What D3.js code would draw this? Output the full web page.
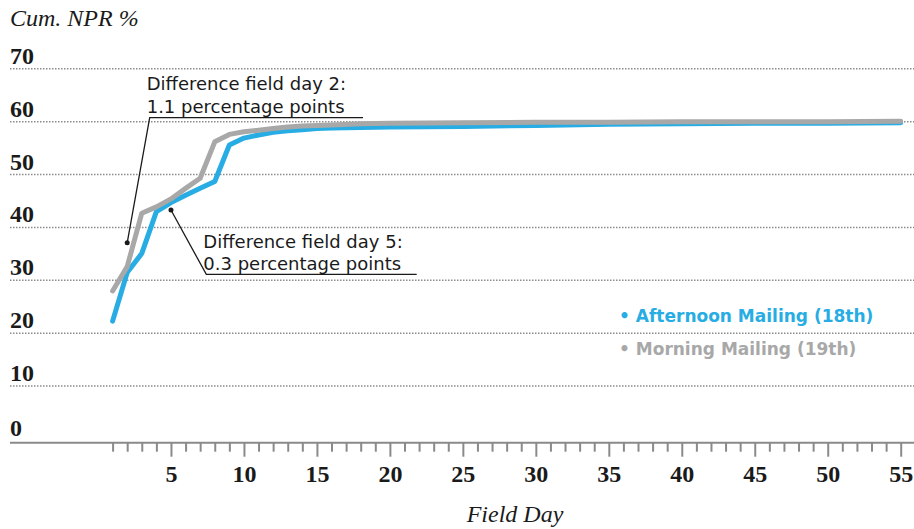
<!DOCTYPE html>
<html>
<head>
<meta charset="utf-8">
<script src="https://cdn.jsdelivr.net/npm/d3@7"></script>
<style>
  html, body { margin: 0; padding: 0; background: #fff; }
  svg { display: block; }
</style>
</head>
<body>
<svg id="drawing_region"></svg>
<script>
// field days
const days = [1, 2, 3, 4, 5, 6, 7, 8, 9, 10, 11, 12, 13, 14, 15, 16, 18, 20, 25, 30, 35, 40, 45, 50, 55];
const afternoon = [22.2, 31.4, 35.0, 42.9, 44.6, 46.0, 47.3, 48.6, 55.5, 56.8, 57.4, 57.9, 58.2, 58.4, 58.6, 58.7, 58.8, 58.9, 59.0, 59.2, 59.4, 59.5, 59.6, 59.6, 59.7];
const morning   = [27.9, 32.5, 42.6, 43.8, 45.3, 47.3, 49.2, 56.1, 57.5, 58.0, 58.3, 58.6, 58.9, 59.1, 59.2, 59.3, 59.5, 59.6, 59.7, 59.8, 59.8, 59.9, 59.9, 59.9, 60.0];
const yTicks = [0, 10, 20, 30, 40, 50, 60, 70];
const xMinorTicks = [1,2,3,4,5,6,7,8,9,10,11,12,13,14,15,16,17,18,19,20,21,22,23,24,25,26,27,28,29,30,
                     31,32,33,34,35,36,37,38,39,40,41,42,43,44,45,46,47,48,49,50,51,52,53,54,55];
const xTickLabels = [5, 10, 15, 20, 25, 30, 35, 40, 45, 50, 55];
const seriesNames = ['Afternoon Mailing (18th)', 'Morning Mailing (19th)'];
const note1 = ['Difference field day 2:', '1.1 percentage points'];
const note2 = ['Difference field day 5:', '0.3 percentage points'];

class LineChart {
    constructor(config) {
        this.config = {
            width: config.width || 914,
            height: config.height || 529,
            blue: '#27ade3',
            grey: '#a8a8a8',
            serif: '"Liberation Serif", "Times New Roman", serif',
            sans: '"DejaVu Sans", "Noto Sans", sans-serif'
        };
        this.init();
    }

    init() {
        let self = this;
        const c = self.config;
        self.svg = d3.select('#drawing_region')
            .attr('width', c.width)
            .attr('height', c.height);

        self.xscale = d3.scaleLinear().domain([0, 55]).range([98, 900.7]);
        self.yscale = d3.scaleLinear().domain([0, 70]).range([438.5, 68.3]);
        self.axisY = 442.7;
    }

    render() {
        let self = this;
        const c = self.config;
        const x = self.xscale, y = self.yscale;

        // y gridlines (dotted) with labels sitting above them
        const yaxis = d3.axisRight(y).tickValues(yTicks.filter(d => d > 0))
            .tickSize(c.width - 10).tickFormat(d => d);
        const yg = self.svg.append('g')
            .attr('transform', 'translate(10,0)')
            .call(yaxis);
        yg.select('.domain').remove();
        yg.selectAll('line')
            .attr('stroke', '#8c8c8c')
            .attr('stroke-width', 1.5)
            .attr('stroke-dasharray', '1.5,1.5');
        yg.selectAll('text')
            .attr('x', 0).attr('dy', null).attr('y', -5)
            .attr('text-anchor', 'start')
            .style('font-family', c.serif).style('font-size', '24px').style('font-weight', 700)
            .style('fill', '#1a1a1a');

        // zero label (no gridline; the axis line carries it)
        self.svg.append('text')
            .attr('x', 10).attr('y', y(0) - 3)
            .style('font-family', c.serif).style('font-size', '24px').style('font-weight', 700)
            .style('fill', '#1a1a1a')
            .text(yTicks[0]);

        // x axis
        self.svg.append('line')
            .attr('x1', 10).attr('x2', c.width)
            .attr('y1', self.axisY).attr('y2', self.axisY)
            .attr('stroke', '#8a8a8a').attr('stroke-width', 2);

        const xaxis = d3.axisBottom(x).tickValues(xMinorTicks)
            .tickSize(9).tickFormat(d => xTickLabels.includes(d) ? d : '');
        const xg = self.svg.append('g')
            .attr('transform', `translate(0,${self.axisY})`)
            .call(xaxis);
        xg.select('.domain').remove();
        xg.selectAll('line')
            .attr('stroke', '#8a8a8a').attr('stroke-width', 2)
            .attr('y2', d => xTickLabels.includes(d) ? 14 : 9);
        xg.selectAll('text')
            .attr('y', 39).attr('dy', null)
            .style('font-family', c.serif).style('font-size', '24px').style('font-weight', 700)
            .style('fill', '#1a1a1a');

        // axis titles
        self.svg.append('text')
            .attr('x', 10).attr('y', 26)
            .style('font-family', c.serif).style('font-style', 'italic').style('font-size', '24px')
            .style('fill', '#1a1a1a')
            .text('Cum. NPR %');
        self.svg.append('text')
            .attr('x', 515).attr('y', 521.5).attr('text-anchor', 'middle')
            .style('font-family', c.serif).style('font-style', 'italic').style('font-size', '24px')
            .style('fill', '#1a1a1a')
            .text('Field Day');

        // lines
        const line = vals => d3.line()
            .x((d, i) => x(days[i]))
            .y(d => y(d))(vals);
        self.svg.append('path')
            .attr('d', line(afternoon))
            .attr('fill', 'none').attr('stroke', c.blue).attr('stroke-width', 5)
            .attr('stroke-linejoin', 'round').attr('stroke-linecap', 'round');
        self.svg.append('path')
            .attr('d', line(morning))
            .attr('fill', 'none').attr('stroke', c.grey).attr('stroke-width', 5)
            .attr('stroke-linejoin', 'round').attr('stroke-linecap', 'round');

        // annotations
        self.note(note1, [x(2), y(37)], 146.7, 90, 23.3, 363);
        self.note(note2, [x(5), y(43.2)], 203.3, 248.3, 21.7, 416.7);

        // legend
        const legend = self.svg.append('g');
        [[seriesNames[0], c.blue, 322.3], [seriesNames[1], c.grey, 355]].forEach(([name, col, by]) => {
            legend.append('text')
                .attr('x', 619).attr('y', by)
                .style('font-family', c.sans).style('font-weight', 700).style('font-size', '17px')
                .style('fill', col)
                .text('\u2022 ' + name);
        });
    }

    note(lines, dot, tx, ty, lh, endX) {
        let self = this;
        const c = self.config;
        const ul = ty + lh + 4.4;
        const g = self.svg.append('g');
        lines.forEach((t, i) => {
            g.append('text')
                .attr('x', tx).attr('y', ty + i * lh)
                .style('font-family', c.sans).style('font-size', '18px')
                .style('fill', '#1a1a1a')
                .text(t);
        });
        g.append('polyline')
            .attr('points', `${dot[0]},${dot[1]} ${tx + 3},${ul} ${endX},${ul}`)
            .attr('fill', 'none').attr('stroke', '#1a1a1a').attr('stroke-width', 1.3);
        g.append('circle')
            .attr('cx', dot[0]).attr('cy', dot[1]).attr('r', 2.5)
            .attr('fill', '#1a1a1a');
    }
}

let chart = new LineChart({ width: 914, height: 529 });
chart.render();
</script>
</body>
</html>
